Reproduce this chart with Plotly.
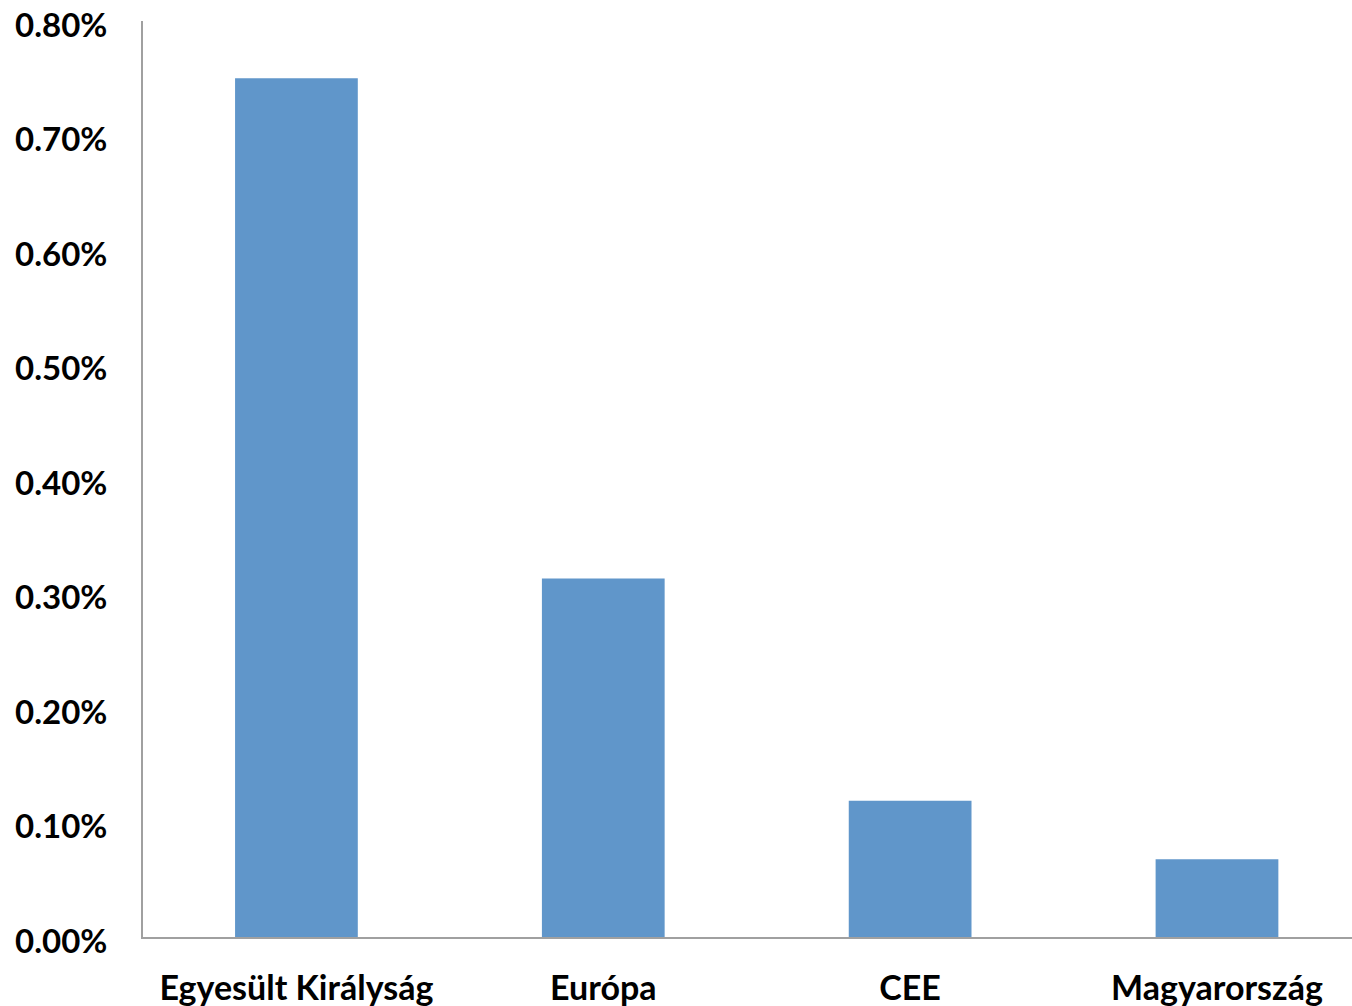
import plotly.graph_objects as go

categories = ["Egyesült Királyság", "Európa", "CEE", "Magyarország"]
values = [0.0075, 0.00313, 0.00119, 0.00068]
y_ticks = [0, 0.001, 0.002, 0.003, 0.004, 0.005, 0.006, 0.007, 0.008]

fig = go.Figure(go.Bar(
    x=categories, y=values,
    marker=dict(color="#6096CA", line=dict(width=0)),
    width=0.4,
))

fig.update_layout(
    width=1352, height=1006, autosize=False,
    margin=dict(l=143, r=0, t=21, b=69, autoexpand=False),
    paper_bgcolor="white", plot_bgcolor="white",
    showlegend=False,
    font=dict(family="Lato", size=30, color="#000000"),
    xaxis=dict(
        range=[-0.5, 3.44], showgrid=False, zeroline=False, automargin=False,
        showline=True, linecolor="#A0A0A0", linewidth=2,
        ticks="", tickfont=dict(family="Lato", size=34, color="#000", weight="bold"),
        ticklabelstandoff=20, ticklabeloverflow="allow",
    ),
    yaxis=dict(
        range=[0, 0.008], showgrid=False, zeroline=False, automargin=False,
        showline=True, linecolor="#A0A0A0", linewidth=2,
        tickvals=y_ticks, tickformat=".2%", ticks="",
        tickfont=dict(family="Lato", size=33, color="#000", weight="bold"),
        ticklabelstandoff=27, ticklabelshift=4, ticklabeloverflow="allow",
    ),
)

fig.write_html("out.html")
